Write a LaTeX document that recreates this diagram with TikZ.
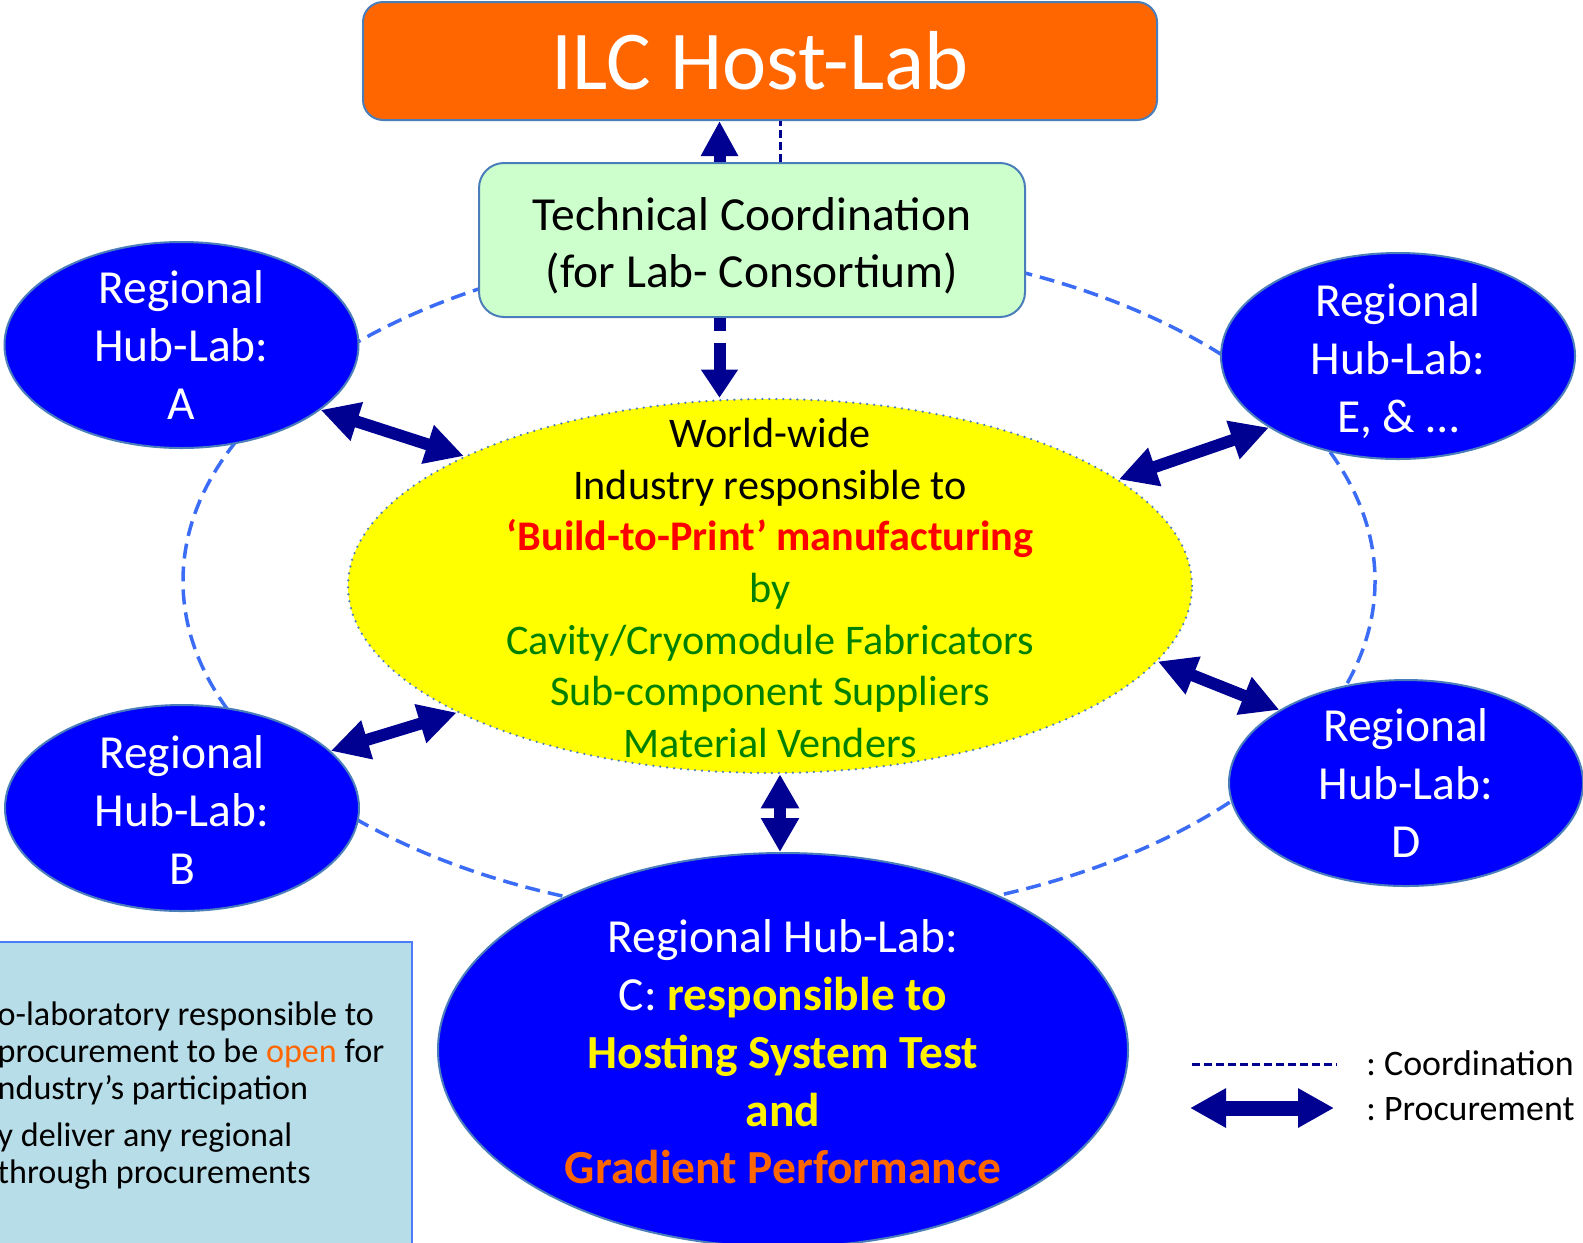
\documentclass[tikz,border=0pt]{standalone}
\usepackage{fontspec}
\setmainfont{Carlito}
\usetikzlibrary{arrows.meta,shapes.geometric}

\definecolor{hostorange}{HTML}{FF6600}
\definecolor{techgreen}{HTML}{CCFFCC}
\definecolor{hubblue}{HTML}{0000FF}
\definecolor{edgeblue}{HTML}{4A7EBB}
\definecolor{ringblue}{HTML}{3B6CF6}
\definecolor{arrownavy}{RGB}{0,0,145}
\definecolor{notegreen}{HTML}{008000}
\definecolor{boxblue}{HTML}{B7DDE8}
\definecolor{boxedge}{HTML}{4D7CF8}
\definecolor{indyellow}{HTML}{FFFF00}

\newlength{\pxl}
\setlength{\pxl}{0.01cm}

\tikzset{
  hub/.style={ellipse, draw=edgeblue, line width=2\pxl, fill=hubblue, minimum width=354\pxl, minimum height=206\pxl, inner sep=0pt},
  hubtext/.style={align=center, text=white, font=\fontsize{13.5}{16.4}\selectfont},
  proc/.style={draw=arrownavy, line width=12\pxl, {Triangle[width=0.38cm,length=0.38cm]}-{Triangle[width=0.38cm,length=0.38cm]}},
  procup/.style={draw=arrownavy, line width=12\pxl, -{Triangle[width=0.35cm,length=0.35cm]}},
  coordline/.style={draw=arrownavy, line width=3\pxl, dash pattern=on 8\pxl off 4\pxl},
  ring/.style={draw=ringblue, line width=3.5\pxl, dash pattern=on 15\pxl off 8\pxl},
  legendtext/.style={anchor=base west, font=\fontsize{10.2}{12}\selectfont},
  notetext/.style={anchor=north west, align=left, inner sep=0pt, font=\fontsize{9.7}{10.6}\selectfont},
}

\begin{document}
\begin{tikzpicture}[x=1\pxl, y=-1\pxl]
  \useasboundingbox (0,0) rectangle (1583,1242);
  \fill[white] (0,0) rectangle (1583,1242);

  % dashed ring of the lab consortium
  \draw[ring] (779,581) ellipse [x radius=596, y radius=338];

  \node[rectangle, rounded corners=20\pxl, draw=edgeblue, line width=2\pxl, fill=hostorange,
        minimum width=794\pxl, minimum height=118\pxl, text=white,
        font=\fontsize{23.8}{28}\selectfont] (host) at (760,61) {ILC Host-Lab};
  \node[rectangle, rounded corners=25\pxl, draw=edgeblue, line width=2\pxl, fill=techgreen,
        minimum width=546\pxl, minimum height=154\pxl] (tech) at (752,240) {};
  \node[align=center, font=\fontsize{13.5}{16.2}\selectfont] (techtext) at ([yshift=-6\pxl]tech.center)
        {Technical Coordination\\(for Lab- Consortium)};

  \node[ellipse, fill=indyellow, draw=edgeblue, line width=2.5\pxl, line cap=round,
        dash pattern=on 0pt off 7\pxl, minimum width=844\pxl, minimum height=374\pxl] (ind) at (770,586) {};
  \node[align=center, font=\fontsize{12}{14.65}\selectfont] (indtext) at (770,588) {World-wide\\
    Industry responsible to\\
    {\color{red}\bfseries `Build-to-Print' manufacturing}\\
    {\color{notegreen}by}\\
    {\color{notegreen}Cavity/Cryomodule Fabricators}\\
    {\color{notegreen}Sub-component Suppliers}\\
    {\color{notegreen}Material Venders}};

  \node[hub] (hubA) at (181.5,345) {};
  \node[hubtext] (hubAtext) at (hubA) {Regional\\Hub-Lab:\\A};
  \node[hub] (hubE) at (1398,356) {};
  \node[hubtext] (hubEtext) at (1398,361) {Regional\\Hub-Lab:\\E, \& …};
  \node[hub] (hubB) at (182,808) {};
  \node[hubtext] (hubBtext) at (182,810) {Regional\\Hub-Lab:\\B};
  \node[hub] (hubD) at (1406,783) {};
  \node[hubtext] (hubDtext) at (hubD) {Regional\\Hub-Lab:\\D};

  \node[hub, minimum width=690\pxl, minimum height=394\pxl] (hubC) at (783,1050) {};
  \node[hubtext] (hubCtext) at (783,1052) {Regional Hub-Lab:\\
    C: {\color{yellow}\bfseries responsible to}\\
    {\color{yellow}\bfseries Hosting System Test}\\
    {\color{yellow}\bfseries and}\\
    {\color{hostorange}\bfseries Gradient Performance}};

  \draw[procup] ([xshift=-32.5\pxl]tech.north) -- ([xshift=-40.5\pxl]host.south);
  \draw[coordline] ([xshift=28\pxl]tech.north) -- ([xshift=20\pxl]host.south);
  \draw[draw=arrownavy, line width=12\pxl, dash pattern=on 13\pxl off 12\pxl on 40\pxl off 1\pxl,
        -{Triangle[width=0.35cm,length=0.28cm]}] ([xshift=-32.5\pxl]tech.south) -- ([xshift=-50.5\pxl]ind.north);

  \draw[proc] (hubA.335) -- (ind.157);
  \draw[proc] (hubE.209) -- (ind.17);
  \draw[proc] (hubB.21) -- (ind.202);
  \draw[proc] (hubD.150) -- (ind.349);
  \draw[proc, {Triangle[width=0.36cm,length=0.34cm]}-{Triangle[width=0.36cm,length=0.34cm]}]
        ([xshift=10\pxl]ind.south) -- ([xshift=-3\pxl]hubC.north);

  % note box, running off the left edge
  \node[rectangle, draw=boxedge, line width=2\pxl, fill=boxblue, anchor=north east,
        minimum width=440\pxl, minimum height=330\pxl] (note) at (413,941) {};
  \node[notetext] (note1) at (-3,1001) {o-laboratory responsible to\\
    procurement to be {\color{hostorange}open} for\\
    ndustry’s participation};
  \node[notetext] (note2) at (-3,1122) {y deliver any regional\\
    through procurements};

  % legend
  \coordinate (legcoordA) at (1192,1064);
  \coordinate (legcoordB) at (1337,1064);
  \draw[coordline] (legcoordA) -- (legcoordB);
  \node[legendtext] (legcoord) at (1354,1075) {:\ Coordination};
  \coordinate (legprocA) at (1190,1108);
  \coordinate (legprocB) at (1334,1108);
  \draw[draw=arrownavy, line width=15\pxl, {Triangle[width=0.37cm,length=0.36cm]}-{Triangle[width=0.37cm,length=0.36cm]}] (legprocA) -- (legprocB);
  \node[legendtext] (legproc) at (1354,1120) {:\ Procurement};
\end{tikzpicture}
\end{document}
